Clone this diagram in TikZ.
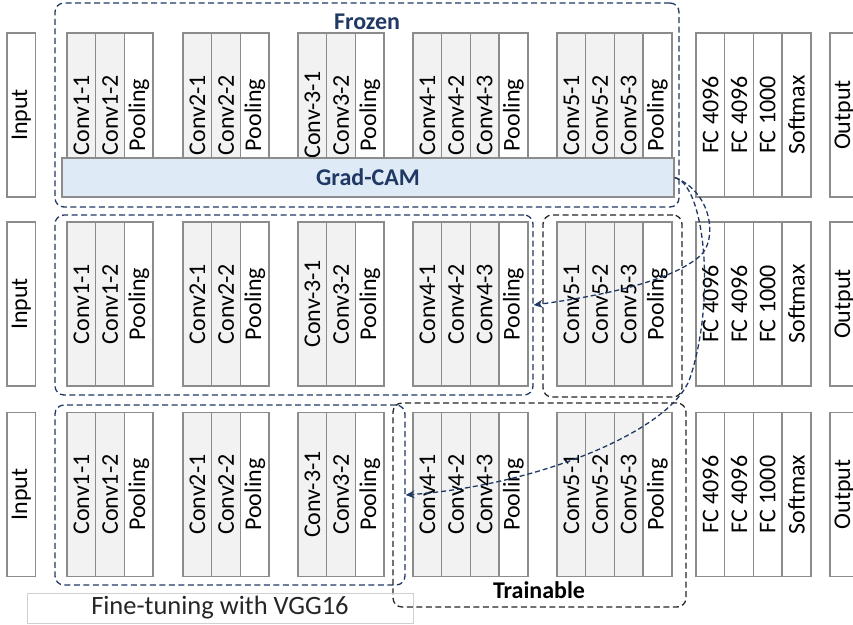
\documentclass[tikz,border=0pt]{standalone}
\usepackage{fontspec}
\setmainfont{Carlito}
\usetikzlibrary{arrows.meta}
\definecolor{navy}{HTML}{1F3864}
\definecolor{cellgray}{HTML}{F2F2F2}
\definecolor{edgegray}{HTML}{8C8C8C}
\definecolor{camblue}{HTML}{DEEAF6}
\definecolor{boxgray}{HTML}{D0D0D0}
\definecolor{txtgray}{HTML}{262626}
\newcommand\vggrow[2]{%
  \foreach \nm/\x/\txt/\sty in {in/7/Input/plaincell,
      c11/67/Conv1-1/convcell, c12/95.7/Conv1-2/convcell, p1/124.4/Pooling/plaincell,
      c21/183/Conv2-1/convcell, c22/211.7/Conv2-2/convcell, p2/240.4/Pooling/plaincell,
      c31/298/Conv-3-1/convcell, c32/326.7/Conv3-2/convcell, p3/355.4/Pooling/plaincell,
      c41/413/Conv4-1/convcell, c42/441.7/Conv4-2/convcell, c43/470.4/Conv4-3/convcell, p4/499.1/Pooling/plaincell,
      c51/557/Conv5-1/convcell, c52/585.7/Conv5-2/convcell, c53/614.4/Conv5-3/convcell, p5/643.1/Pooling/plaincell,
      f1/696/FC 4096/plaincell, f2/724.7/FC 4096/plaincell, f3/753.4/FC 1000/plaincell, sm/782.1/Softmax/plaincell,
      out/830/Output/plaincell}
  {\node[\sty] (#1\nm) at (\x+14.35,#2) {\rotatebox{90}{\txt}};}%
}
\begin{document}
\begin{tikzpicture}[x=1pt,y=-1pt,
  cellbase/.style={draw=edgegray, line width=1.4pt, minimum width=28.7pt,
    minimum height=164pt, inner sep=0pt, font=\fontsize{24}{26}\selectfont},
  convcell/.style={cellbase, fill=cellgray},
  plaincell/.style={cellbase, fill=white},
  navybox/.style={draw=navy, line width=1.3pt, dash pattern=on 6pt off 3.5pt,
    rounded corners=9pt, inner sep=0pt},
  blackbox/.style={draw=black!85, line width=1.3pt, dash pattern=on 6pt off 3.5pt,
    rounded corners=9pt, inner sep=0pt},
  camarrow/.style={draw=navy, line width=1.3pt, dash pattern=on 5pt off 3pt,
    -{Stealth[length=9pt,width=8pt,fill=navy]}},
  boldlabel/.style={font=\fontsize{24}{26}\selectfont\bfseries}
]
\useasboundingbox (0,0) rectangle (853,624);
\clip (0,0) rectangle (853,624);
\fill[white] (0,0) rectangle (853,624);

% rows of layers
\vggrow{ra}{115}
\vggrow{rb}{304}
\vggrow{rc}{494.5}

% Grad-CAM bar
\node[draw=edgegray, fill=camblue, line width=1.4pt, minimum width=612pt,
  minimum height=39pt, inner sep=0pt, boldlabel, text=navy] (gc) at (368,177.5) {Grad-CAM};

% dashed groups
\node[navybox, minimum width=624pt, minimum height=204pt] (fz) at (367,105) {};
\node[navybox, minimum width=478pt, minimum height=180pt] (nb2) at (294,305) {};
\node[blackbox, minimum width=139pt, minimum height=182pt] (bb2) at (612.5,306) {};
\node[navybox, minimum width=350pt, minimum height=180pt] (nb3) at (230,495) {};
\node[blackbox, minimum width=293pt, minimum height=204pt] (tr) at (539.5,505) {};

% labels
\node[boldlabel, text=navy] (frozen) at (367,22) {Frozen};
\node[boldlabel, text=black] (trainable) at (539,590) {Trainable};
\node[draw=boxgray, line width=0.8pt, minimum width=386pt, minimum height=30pt,
  inner sep=0pt, font=\fontsize{26.5}{28}\selectfont, text=txtgray] (ft) at (220,608)
  {Fine-tuning with VGG16};

% Grad-CAM connectors
\draw[camarrow] (gc.east) .. controls (712,192) and (718,240) .. (700,256)
  .. controls (670,282) and (600,296) .. (nb2.east);
\draw[camarrow] (gc.east) .. controls (705,185) and (716,300) .. (690,378)
  .. controls (672,430) and (540,485) .. (nb3.east);
\end{tikzpicture}
\end{document}
